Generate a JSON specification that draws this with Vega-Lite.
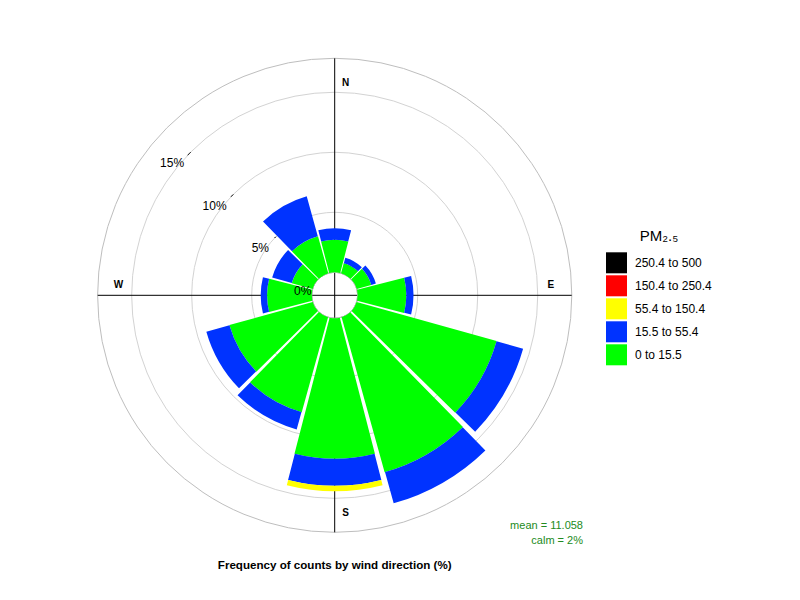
{
  "$schema": "https://vega.github.io/schema/vega-lite/v6.json",
  "width": 474,
  "height": 474,
  "autosize": "none",
  "padding": {"left": 97.7, "top": 58.3, "right": 228.3, "bottom": 67.7},
  "background": "white",
  "title": {
    "text": "Frequency of counts by wind direction (%)",
    "orient": "bottom",
    "anchor": "middle",
    "frame": "group",
    "fontSize": 11.6,
    "fontWeight": "bold",
    "color": "black",
    "offset": 14
  },
  "datasets": {
    "rose": [
      {"dir": 0, "band": "0 to 15.5", "pct": 2.7},
      {"dir": 0, "band": "15.5 to 55.4", "pct": 0.97},
      {"dir": 30, "band": "0 to 15.5", "pct": 0.87},
      {"dir": 30, "band": "15.5 to 55.4", "pct": 0.46},
      {"dir": 60, "band": "0 to 15.5", "pct": 1.25},
      {"dir": 60, "band": "15.5 to 55.4", "pct": 0.4},
      {"dir": 90, "band": "0 to 15.5", "pct": 4.05},
      {"dir": 90, "band": "15.5 to 55.4", "pct": 0.6},
      {"dir": 120, "band": "0 to 15.5", "pct": 12.1},
      {"dir": 120, "band": "15.5 to 55.4", "pct": 2.3},
      {"dir": 150, "band": "0 to 15.5", "pct": 13.4},
      {"dir": 150, "band": "15.5 to 55.4", "pct": 2.7},
      {"dir": 180, "band": "0 to 15.5", "pct": 11.7},
      {"dir": 180, "band": "15.5 to 55.4", "pct": 2.25},
      {"dir": 180, "band": "55.4 to 150.4", "pct": 0.45},
      {"dir": 210, "band": "0 to 15.5", "pct": 8.2},
      {"dir": 210, "band": "15.5 to 55.4", "pct": 1.5},
      {"dir": 240, "band": "0 to 15.5", "pct": 7.2},
      {"dir": 240, "band": "15.5 to 55.4", "pct": 2.0},
      {"dir": 270, "band": "0 to 15.5", "pct": 3.72},
      {"dir": 270, "band": "15.5 to 55.4", "pct": 0.53},
      {"dir": 300, "band": "0 to 15.5", "pct": 1.8},
      {"dir": 300, "band": "15.5 to 55.4", "pct": 1.7},
      {"dir": 330, "band": "0 to 15.5", "pct": 3.2},
      {"dir": 330, "band": "15.5 to 55.4", "pct": 3.45}
    ],
    "rings": [
      {"ring": 5, "label": "5%"},
      {"ring": 10, "label": "10%"},
      {"ring": 15, "label": "15%"}
    ]
  },
  "layer": [
    {
      "data": {"name": "rings"},
      "mark": {"type": "arc", "filled": false, "color": "#d3d3d3", "strokeWidth": 1, "theta": 0, "theta2": 6.2832},
      "encoding": {
        "radius": {
          "field": "ring",
          "type": "quantitative",
          "stack": null,
          "scale": {"type": "linear", "domain": [0, 17.83], "range": [23, 237], "zero": false}
        }
      }
    },
    {
      "data": {"name": "rings"},
      "mark": {"type": "arc", "filled": false, "color": "#333333", "strokeWidth": 1, "theta": 5.474, "theta2": 5.494},
      "encoding": {
        "radius": {"field": "ring", "type": "quantitative", "stack": null},
        "radius2": {"field": "ring"}
      }
    },
    {
      "data": {"values": [{"ring": 17.83}]},
      "mark": {"type": "arc", "filled": false, "color": "#bebebe", "strokeWidth": 1, "theta": 0, "theta2": 6.2832},
      "encoding": {
        "radius": {"field": "ring", "type": "quantitative", "stack": null}
      }
    },
    {
      "data": {"values": [{}]},
      "mark": {"type": "rule", "color": "black", "strokeWidth": 1},
      "encoding": {
        "x": {"datum": -1, "type": "quantitative", "scale": {"domain": [-1, 1]}, "axis": null},
        "x2": {"datum": 1},
        "y": {"datum": 0, "type": "quantitative", "scale": {"domain": [-1, 1]}, "axis": null}
      }
    },
    {
      "data": {"values": [{}]},
      "mark": {"type": "rule", "color": "black", "strokeWidth": 1},
      "encoding": {
        "x": {"datum": 0, "type": "quantitative"},
        "y": {"datum": -1, "type": "quantitative"},
        "y2": {"datum": 1}
      }
    },
    {
      "data": {"values": [{"ring": 0}]},
      "mark": {"type": "arc", "fill": "white", "stroke": "#bebebe", "strokeWidth": 1, "theta": 0, "theta2": 6.2832},
      "encoding": {
        "radius": {"field": "ring", "type": "quantitative", "stack": null}
      }
    },
    {
      "data": {"name": "rose"},
      "mark": {"type": "arc", "stroke": null, "padAngle": 0.008},
      "encoding": {
        "theta": {
          "field": "dir",
          "type": "ordinal",
          "scale": {
            "type": "band",
            "domain": [0, 30, 60, 90, 120, 150, 180, 210, 240, 270, 300, 330],
            "range": [-0.2618, 6.0214],
            "paddingInner": 0.035,
            "paddingOuter": 0.0175
          }
        },
        "radius": {"field": "pct", "type": "quantitative", "stack": true},
        "order": {"field": "band", "sort": "ascending"},
        "color": {
          "field": "band",
          "type": "nominal",
          "scale": {
            "domain": ["250.4 to 500", "150.4 to 250.4", "55.4 to 150.4", "15.5 to 55.4", "0 to 15.5"],
            "range": ["#000000", "#FF0000", "#FFFF00", "#0033FF", "#00FF00"]
          },
          "legend": {
            "title": "PM₂.₅",
            "orient": "none",
            "legendX": 508.3,
            "legendY": 171,
            "titleAnchor": "middle",
            "titleFontSize": 15,
            "titleFontWeight": "normal",
            "titleColor": "black",
            "titlePadding": 8,
            "symbolType": "square",
            "symbolSize": 441,
            "symbolStrokeWidth": 0,
            "symbolOpacity": 1,
            "labelFontSize": 12,
            "labelColor": "black",
            "labelOffset": 8,
            "rowPadding": 2
          }
        }
      }
    },
    {
      "data": {"values": [{"ring": 0, "label": "0%"}, {"ring": 5, "label": "5%"}, {"ring": 10, "label": "10%"}, {"ring": 15, "label": "15%"}]},
      "mark": {"type": "text", "align": "right", "baseline": "middle", "dx": -7, "dy": 11.5, "fontSize": 12, "color": "black"},
      "encoding": {
        "theta": {"datum": 315, "type": "quantitative", "scale": {"domain": [0, 360], "range": [0, 6.2832]}},
        "radius": {"field": "ring", "type": "quantitative", "stack": null},
        "text": {"field": "label"}
      }
    },
    {
      "data": {"values": [{"dir": 0, "label": "N"}, {"dir": 180, "label": "S"}]},
      "mark": {"type": "text", "align": "center", "baseline": "middle", "dx": 11, "dy": 3, "fontSize": 10, "fontWeight": "bold", "color": "black"},
      "encoding": {
        "theta": {"field": "dir", "type": "quantitative", "scale": {"domain": [0, 360], "range": [0, 6.2832]}},
        "radius": {"datum": 16.0, "type": "quantitative", "stack": null},
        "text": {"field": "label"}
      }
    },
    {
      "data": {"values": [{"dir": 90, "label": "E"}, {"dir": 270, "label": "W"}]},
      "mark": {"type": "text", "align": "center", "baseline": "middle", "dy": -10, "fontSize": 10, "fontWeight": "bold", "color": "black"},
      "encoding": {
        "theta": {"field": "dir", "type": "quantitative", "scale": {"domain": [0, 360], "range": [0, 6.2832]}},
        "radius": {"datum": 16.1, "type": "quantitative", "stack": null},
        "text": {"field": "label"}
      }
    },
    {
      "data": {"values": [{}]},
      "mark": {"type": "text", "align": "right", "baseline": "top", "x": 485.3, "y": 461.5, "fontSize": 11, "lineHeight": 15.5, "color": "#228B22"},
      "encoding": {
        "text": {"value": ["mean = 11.058", "calm = 2%"]}
      }
    }
  ],
  "resolve": {"scale": {"theta": "independent"}},
  "config": {
    "font": "Liberation Sans",
    "view": {"stroke": null}
  }
}
